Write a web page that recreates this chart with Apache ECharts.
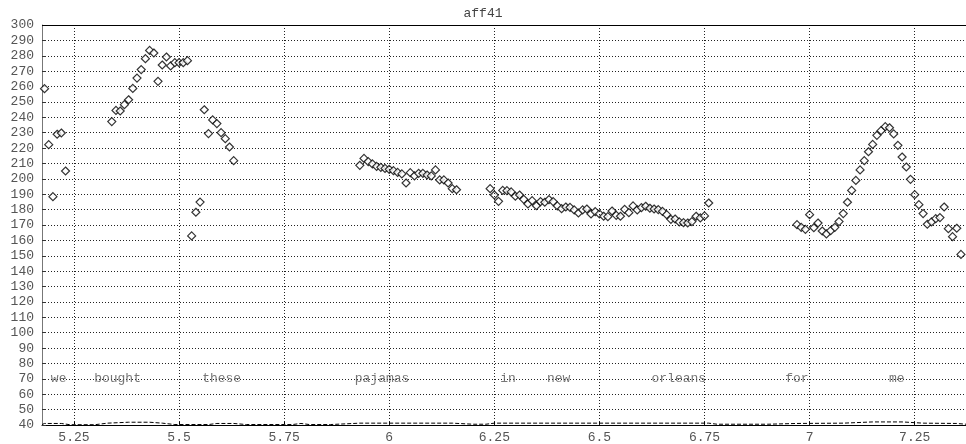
<!DOCTYPE html>
<html>
<head>
<meta charset="utf-8">
<title>aff41</title>
<script src="https://cdn.jsdelivr.net/npm/echarts@6.0.0/dist/echarts.min.js"></script>
<style>
  html, body { margin: 0; padding: 0; background: #fff; }
  #main { width: 966px; height: 444px; }
</style>
</head>
<body>
<div id="main"></div>
<script>
// pitch track (seconds, Hz)
var pitchTimes = [
  5.18, 5.19, 5.20, 5.21, 5.22, 5.23,
  5.34, 5.35, 5.36, 5.37, 5.38, 5.39, 5.40, 5.41, 5.42, 5.43, 5.44, 5.45, 5.46, 5.47,
  5.48, 5.49, 5.50, 5.51, 5.52, 5.53, 5.54, 5.55, 5.56, 5.57, 5.58, 5.59, 5.60, 5.61, 5.62, 5.63,
  5.93, 5.94, 5.95, 5.96, 5.97, 5.98, 5.99, 6.00, 6.01, 6.02, 6.03, 6.04, 6.05, 6.06, 6.07, 6.08,
  6.09, 6.10, 6.11, 6.12, 6.13, 6.14, 6.15, 6.16,
  6.24, 6.25, 6.26, 6.27, 6.28, 6.29, 6.30, 6.31, 6.32, 6.33, 6.34, 6.35, 6.36, 6.37, 6.38, 6.39,
  6.40, 6.41, 6.42, 6.43, 6.44, 6.45, 6.46, 6.47, 6.48, 6.49, 6.50, 6.51, 6.52, 6.53, 6.54, 6.55,
  6.56, 6.57, 6.58, 6.59, 6.60, 6.61, 6.62, 6.63, 6.64, 6.65, 6.66, 6.67, 6.68, 6.69, 6.70, 6.71,
  6.72, 6.73, 6.74, 6.75, 6.76,
  6.97, 6.98, 6.99, 7.00, 7.01, 7.02, 7.03, 7.04, 7.05, 7.06, 7.07, 7.08, 7.09, 7.10, 7.11, 7.12,
  7.13, 7.14, 7.15, 7.16, 7.17, 7.18, 7.19, 7.20, 7.21, 7.22, 7.23, 7.24, 7.25, 7.26, 7.27, 7.28,
  7.29, 7.30, 7.31, 7.32, 7.33, 7.34, 7.35, 7.36
];
var pitchHz = [
  258.6, 222.2, 188.4, 229.0, 229.8, 205.1,
  237.2, 244.5, 244.1, 248.2, 251.4, 258.8, 265.5, 271.0, 278.1, 283.5, 281.8, 263.4, 274.0, 279.2,
  273.4, 275.5, 275.5, 275.5, 276.8, 162.9, 178.3, 184.9, 244.9, 229.4, 238.3, 235.9, 230.0, 226.1, 220.7, 211.8,
  208.8, 213.3, 211.2, 209.7, 208.1, 207.5, 206.8, 206.2, 205.3, 204.2, 203.2, 197.3, 204.0, 201.9, 203.6, 203.6,
  202.5, 201.9, 205.8, 199.3, 199.3, 197.3, 193.6, 192.9,
  193.6, 189.5, 185.4, 192.5, 192.3, 191.5, 188.7, 189.5, 186.7, 183.7, 185.8, 182.5, 185.2, 184.8, 186.5, 185.2,
  182.4, 180.6, 181.7, 181.5, 179.8, 177.8, 179.8, 180.4, 177.2, 178.7, 177.2, 175.7, 175.4, 179.1, 176.3, 175.7,
  180.2, 178.0, 182.4, 179.8, 181.3, 182.2, 180.9, 180.4, 180.0, 178.9, 176.7, 173.7, 173.9, 172.0, 171.5, 171.3,
  172.2, 175.7, 174.6, 175.9, 184.3,
  170.2, 168.5, 167.2, 176.7, 168.2, 171.3, 166.1, 164.2, 166.3, 168.5, 172.2, 177.4, 184.8, 192.5, 199.0, 205.8,
  211.8, 217.6, 222.4, 228.3, 231.3, 233.9, 233.2, 229.2, 221.8, 214.2, 207.7, 199.7, 189.7, 183.2, 177.4, 170.5,
  172.0, 174.1, 174.8, 181.7, 167.6, 162.4, 167.9, 150.9
];

// energy trace along the bottom
var energyTimes = [5.174, 5.18, 5.22, 5.24, 5.30, 5.33, 5.38, 5.43, 5.46, 5.49, 5.57, 5.59, 5.63, 5.66,
  5.77, 5.79, 5.81, 5.86, 5.90, 5.93, 6.15, 6.20, 6.23, 6.25, 6.76, 6.78, 6.90, 6.97, 7.08, 7.15,
  7.22, 7.27, 7.35, 7.372];
var energyValues = [40.3, 41.0, 41.0, 40.2, 40.2, 41.2, 41.8, 41.8, 41.2, 40.3, 40.3, 41.0, 41.0, 40.3,
  40.3, 41.0, 40.3, 40.3, 40.8, 41.2, 41.2, 40.5, 40.5, 41.2, 41.2, 40.5, 40.5, 41.0, 41.2, 42.0,
  42.0, 41.2, 41.0, 40.5];

// word labels (start time, text)
var wordStarts = [5.195, 5.298, 5.555, 5.918, 6.264, 6.375, 6.624, 6.942, 7.189];
var wordTexts = ['we', 'bought', 'these', 'pajamas', 'in', 'new', 'orleans', 'for', 'me'];
var wordLevel = 70;

var xTicks = [5.25, 5.5, 5.75, 6, 6.25, 6.5, 6.75, 7, 7.25];
var xMin = 5.174, xMax = 7.372;

var mono = 'Liberation Mono';
var dotted = { color: '#222', width: 1, type: [1, 2] };

var chart = echarts.init(document.getElementById('main'));
chart.setOption({
  animation: false,
  backgroundColor: '#fff',
  title: {
    text: 'aff41', left: 'center', top: 2,
    textStyle: { fontFamily: mono, fontSize: 13, fontWeight: 'normal', color: '#444' }
  },
  grid: { left: 42, right: 0, top: 25, bottom: 19 },
  xAxis: {
    type: 'value', min: xMin, max: xMax,
    axisLine: { lineStyle: { color: '#000', width: 1 } },
    axisTick: { inside: true, length: 4, customValues: xTicks, lineStyle: { color: '#000' } },
    axisLabel: { customValues: xTicks, margin: 6, fontFamily: mono, fontSize: 13, color: '#555' },
    splitLine: { show: false }
  },
  yAxis: {
    type: 'value', min: 40, max: 300, interval: 10,
    axisLine: { show: true, lineStyle: { color: '#777', width: 1 } },
    axisTick: { show: true, inside: true, length: 4, lineStyle: { color: '#333' } },
    axisLabel: { margin: 8, fontFamily: mono, fontSize: 13, color: '#555' },
    splitLine: { show: true, lineStyle: dotted }
  },
  series: [
    {
      type: 'line', silent: true, symbol: 'none',
      data: energyTimes.map(function (t, i) { return [t, energyValues[i]]; }),
      lineStyle: { color: '#000', width: 1, type: [4, 2] },
      markLine: {
        silent: true, symbol: 'none', label: { show: false },
        data: xTicks.map(function (t) { return { xAxis: t, lineStyle: dotted }; })
          .concat([{ yAxis: 300, lineStyle: { color: '#000', width: 1, type: 'solid' } }])
      }
    },
    {
      type: 'scatter', silent: true,
      symbol: 'diamond', symbolSize: 8,
      itemStyle: { color: '#fff', borderColor: '#000', borderWidth: 1.2 },
      data: pitchTimes.map(function (t, i) { return [t, pitchHz[i]]; })
    },
    {
      type: 'scatter', silent: true, symbolSize: 0,
      data: wordStarts.map(function (t, i) { return [t, wordLevel, wordTexts[i]]; }),
      label: {
        show: true, position: 'right', distance: 0,
        formatter: function (p) { return p.value[2]; },
        fontFamily: mono, fontSize: 13, color: '#555'
      }
    }
  ]
});
</script>
</body>
</html>
